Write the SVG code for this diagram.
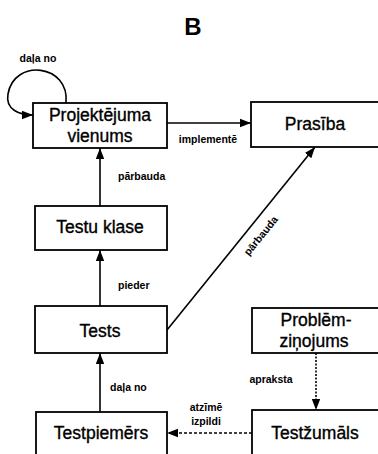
<svg xmlns="http://www.w3.org/2000/svg" width="378" height="454" viewBox="0 0 378 454">
  <style>
    .box { fill: #fff; stroke: #000; stroke-width: 1.8; }
    .node { font-family: "Liberation Sans", Arial, sans-serif; font-size: 17.5px; fill: #000; stroke: #000; stroke-width: 0.35; text-anchor: middle; }
    .lbl { font-family: "Liberation Sans", Arial, sans-serif; font-size: 10.5px; font-weight: bold; fill: #000; }
    .edge { fill: none; stroke: #000; stroke-width: 1.6; }
    .dot { stroke-dasharray: 2 1.5; }
    .dash { stroke-dasharray: 3 2; }
    .title { font-family: "Liberation Sans", Arial, sans-serif; font-size: 24px; font-weight: bold; text-anchor: middle; }
  </style>
  <defs>
    <marker id="arrow" markerUnits="userSpaceOnUse" markerWidth="12" markerHeight="10" refX="11" refY="5" orient="auto">
      <path d="M0,0.8 L11,5 L0,9.2 Z" fill="#000"/>
    </marker>
  </defs>
  <rect width="378" height="454" fill="#fff"/>

  <text class="title" x="193" y="35">B</text>

  <!-- connectors -->
  <g id="connectors">
    <path class="edge" d="M66,103 C70,64 14,58 8,94 C5,110 20,115 33,115" marker-end="url(#arrow)"/>
    <text class="lbl" x="38" y="62" text-anchor="middle">daļa no</text>

    <line class="edge" x1="167" y1="123" x2="251" y2="123" marker-end="url(#arrow)"/>
    <text class="lbl" x="208" y="143" text-anchor="middle">implementē</text>

    <line class="edge" x1="100" y1="206" x2="100" y2="148" marker-end="url(#arrow)"/>
    <text class="lbl" x="118" y="180">pārbauda</text>

    <line class="edge" x1="100" y1="306" x2="100" y2="250" marker-end="url(#arrow)"/>
    <text class="lbl" x="118" y="289">pieder</text>

    <line class="edge" x1="167" y1="330" x2="315" y2="147" marker-end="url(#arrow)"/>
    <text class="lbl" x="0" y="0" text-anchor="middle" transform="translate(263.5,238) rotate(-51)">pārbauda</text>

    <line class="edge" x1="100" y1="412" x2="100" y2="353" marker-end="url(#arrow)"/>
    <text class="lbl" x="110" y="391">daļa no</text>

    <line class="edge dot" x1="316" y1="353" x2="316" y2="410" marker-end="url(#arrow)"/>
    <text class="lbl" x="271" y="383" text-anchor="middle">apraksta</text>

    <line class="edge dash" x1="252" y1="433" x2="167" y2="433" marker-end="url(#arrow)"/>
    <text class="lbl" x="206" y="411" text-anchor="middle" font-size="9">atzīmē</text>
    <text class="lbl" x="206" y="425" text-anchor="middle" font-size="9">izpildi</text>
  </g>

  <g id="projektejuma-vienums">
    <rect class="box" x="33" y="103" width="134" height="45"/>
    <text class="node" x="100" y="121">Projektējuma</text>
    <text class="node" x="100" y="142">vienums</text>
  </g>

  <g id="prasiba">
    <rect class="box" x="251" y="102" width="132" height="45"/>
    <text class="node" x="315" y="130">Prasība</text>
  </g>

  <g id="testu-klase">
    <rect class="box" x="35" y="206" width="132" height="44"/>
    <text class="node" x="100" y="233">Testu klase</text>
  </g>

  <g id="tests">
    <rect class="box" x="35" y="306" width="132" height="47"/>
    <text class="node" x="100" y="337">Tests</text>
  </g>

  <g id="testpiemers">
    <rect class="box" x="36" y="412" width="131" height="50"/>
    <text class="node" x="101" y="439">Testpiemērs</text>
  </g>

  <g id="problem-zinojums">
    <rect class="box" x="252" y="308" width="131" height="45"/>
    <text class="node" x="316" y="326" font-size="18.5">Problēm-</text>
    <text class="node" x="314" y="347" font-size="18.5">ziņojums</text>
  </g>

  <g id="testzumals">
    <rect class="box" x="252" y="410" width="131" height="52"/>
    <text class="node" x="315" y="439" font-size="19">Testžumāls</text>
  </g>
</svg>
